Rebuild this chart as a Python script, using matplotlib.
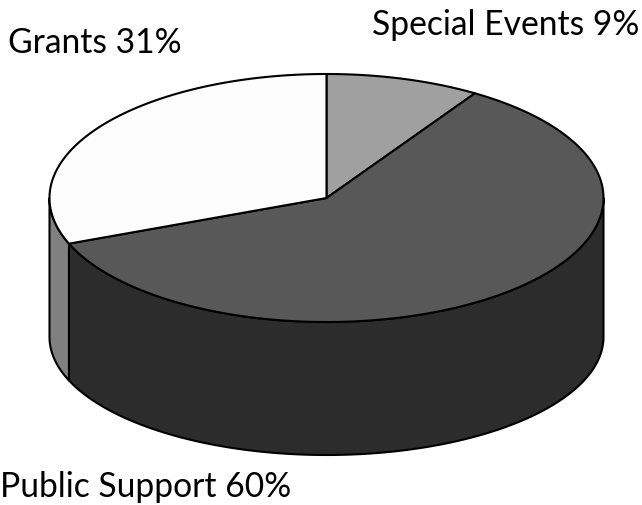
import numpy as np
import matplotlib
matplotlib.use('Agg')
import matplotlib.pyplot as plt

plt.rcParams['font.family'] = ['Lato', 'DejaVu Sans']

labels = ['Special Events 9%', 'Public Support 60%', 'Grants 31%']
shares = [9, 60, 31]
top_colors = ['#a0a0a0', '#585858', '#fdfdfd']
side_colors = ['#505050', '#2c2c2c', '#808080']

# pie geometry in pixels, the lower rim is flatter than the top one
cx, cy = 326.5, 198
rx, ry = 277, 124
cy_low, ry_low = 337, 118


def rim(a0, a1, y0=cy, r=ry):
    t = np.radians(np.linspace(a0, a1, 200))
    return cx + rx * np.cos(t), y0 - r * np.sin(t)


fig = plt.figure(figsize=(6.42, 5.05), dpi=100)
ax = fig.add_axes([0, 0, 1, 1])
ax.set_xlim(0, 642)
ax.set_ylim(505, 0)
ax.axis('off')

# slices run clockwise from 12 o'clock
start = 90
for share, top, side in zip(shares, top_colors, side_colors):
    end = start - share * 3.6

    # wall, only the part of the slice facing the viewer
    a0 = min(start, 0)
    a1 = max(end, -180)
    if a0 > a1:
        x1, y1 = rim(a0, a1)
        x2, y2 = rim(a1, a0, cy_low, ry_low)
        ax.fill(np.r_[x1, x2], np.r_[y1, y2], facecolor=side,
                edgecolor='black', lw=1.5, joinstyle='round')

    x, y = rim(start, end)
    ax.fill(np.r_[cx, x], np.r_[cy, y], facecolor=top,
            edgecolor='black', lw=1.5, joinstyle='round')
    start = end

ax.text(8, 53, labels[2], fontsize=24.2, color='black', va='baseline')
ax.text(372, 35, labels[0], fontsize=24.2, color='black', va='baseline')
ax.text(0, 497, labels[1], fontsize=24.2, color='black', va='baseline')

fig.savefig('out.png', dpi=100)
